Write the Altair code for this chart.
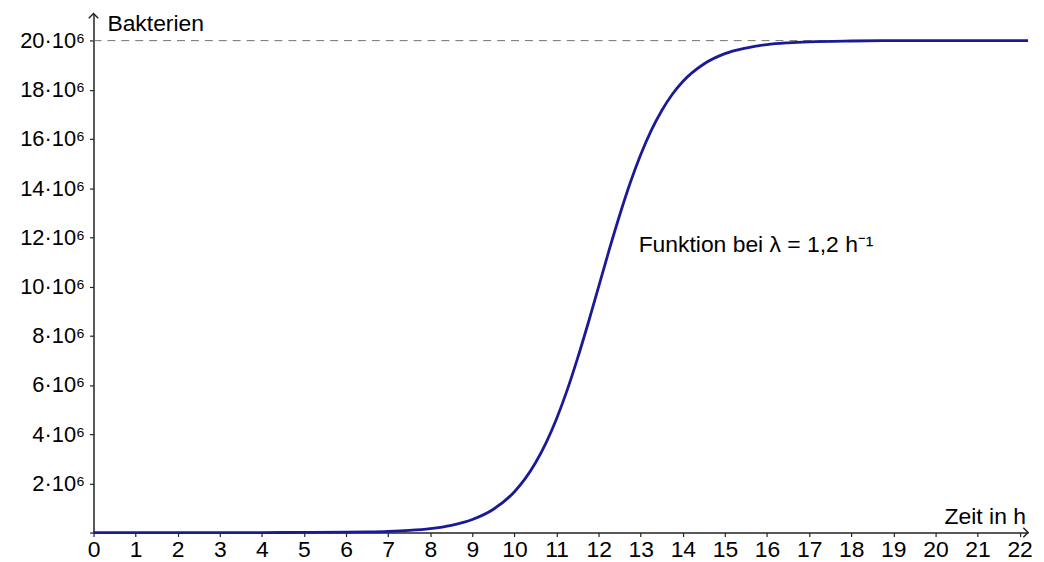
import altair as alt
import pandas as pd

# Time (h) and read-off bacteria counts (in millions)
zeit = [0, 1, 2, 3, 4, 5, 6, 6.5, 7, 7.5, 8, 8.5, 9, 9.5, 10, 10.25, 10.5, 10.75,
        11, 11.25, 11.5, 11.75, 12, 12.25, 12.5, 12.75, 13, 13.25, 13.5, 13.75,
        14, 14.5, 15, 15.5, 16, 16.5, 17, 18, 19, 20, 21, 22, 22.2]
bakterien_mio = [0, 0, 0, 0, 0, 0.005, 0.015, 0.027, 0.049, 0.09, 0.163, 0.296, 0.532,
                 0.949, 1.66, 2.18, 2.84, 3.65, 4.63, 5.78, 7.09, 8.51, 10.0, 11.49,
                 12.91, 14.22, 15.37, 16.35, 17.16, 17.82, 18.34, 19.05, 19.47, 19.70,
                 19.84, 19.91, 19.95, 19.985, 20.0, 20.0, 20.0, 20.0, 20.0]

x_max = 22.2
y_max = 21.1e6
kapazitaet = 20e6
x_ticks = list(range(0, 23))
y_ticks = [i * 1e6 for i in range(0, 21)]

df = pd.DataFrame({"t": zeit, "n": [v * 1e6 for v in bakterien_mio]})

FONT = "Liberation Sans"

x_scale = alt.Scale(domain=[0, x_max], nice=False, zero=False)
y_scale = alt.Scale(domain=[0, y_max], nice=False)

x_axis = alt.Axis(values=x_ticks, format="d", title=None, grid=False,
                  labelFontSize=23, labelFont=FONT, labelColor="black",
                  labelPadding=2, tickSize=4, labelFlush=False, labelOverlap=False)
y_axis = alt.Axis(values=y_ticks, title=None, grid=False,
                  labelExpr="datum.value > 0 && datum.value % 2000000 == 0 ? (datum.value/1000000) + '·10⁶' : ''",
                  labelFontSize=22, labelFont=FONT, labelColor="black",
                  labelPadding=5, tickSize=4, labelOverlap=False, labelFlush=False)

base = alt.Chart(df)

curve = base.mark_line(color="#1a1a99", strokeWidth=2.8, interpolate="monotone").encode(
    x=alt.X("t:Q", scale=x_scale, axis=x_axis),
    y=alt.Y("n:Q", scale=y_scale, axis=y_axis),
)

rule_df = pd.DataFrame({"x": [0], "x2": [x_max], "y": [kapazitaet]})
dashed = alt.Chart(rule_df).mark_rule(color="#707070", strokeWidth=1, strokeDash=[8, 6]).encode(
    x=alt.X("x:Q", scale=x_scale),
    x2="x2:Q",
    y=alt.Y("y:Q", scale=y_scale),
)

labels_df = pd.DataFrame({
    "x": [0.33, 12.95],
    "y": [20.68e6, 11.68e6],
    "text": ["Bakterien", "Funktion bei λ = 1,2 h⁻¹"],
})
labels = alt.Chart(labels_df).mark_text(align="left", baseline="middle", font=FONT,
                                        fontSize=23, color="black").encode(
    x=alt.X("x:Q", scale=x_scale),
    y=alt.Y("y:Q", scale=y_scale),
    text="text:N",
)

xlabel_df = pd.DataFrame({"x": [22.15], "y": [0.62e6], "text": ["Zeit in h"]})
xlabel = alt.Chart(xlabel_df).mark_text(align="right", baseline="middle", font=FONT,
                                        fontSize=23, color="black").encode(
    x=alt.X("x:Q", scale=x_scale),
    y=alt.Y("y:Q", scale=y_scale),
    text="text:N",
)

up_df = pd.DataFrame({"x": [0], "y": [y_max]})
arrow_up = alt.Chart(up_df).mark_point(shape="M -1 1 L 0 0 L 1 1", filled=False,
                                       color="#222", strokeWidth=1.5, size=90, opacity=1).encode(
    x=alt.X("x:Q", scale=x_scale),
    y=alt.Y("y:Q", scale=y_scale),
)
right_df = pd.DataFrame({"x": [x_max], "y": [0]})
arrow_right = alt.Chart(right_df).mark_point(shape="M -1 -1 L 0 0 L -1 1", filled=False,
                                             color="#222", strokeWidth=1.5, size=90, opacity=1).encode(
    x=alt.X("x:Q", scale=x_scale),
    y=alt.Y("y:Q", scale=y_scale),
)

chart = alt.layer(dashed, curve, labels, xlabel, arrow_up, arrow_right).properties(
    width=940,
    height=522,
    autosize=alt.AutoSizeParams(type="none"),
    padding={"left": 86, "top": 4, "right": 8, "bottom": 28},
).configure_view(stroke=None).configure_axis(
    domainColor="#222", domainWidth=1.5, tickColor="#222", tickWidth=1.2,
)

chart.save("out.html", embed_options={"renderer": "svg", "actions": False})
